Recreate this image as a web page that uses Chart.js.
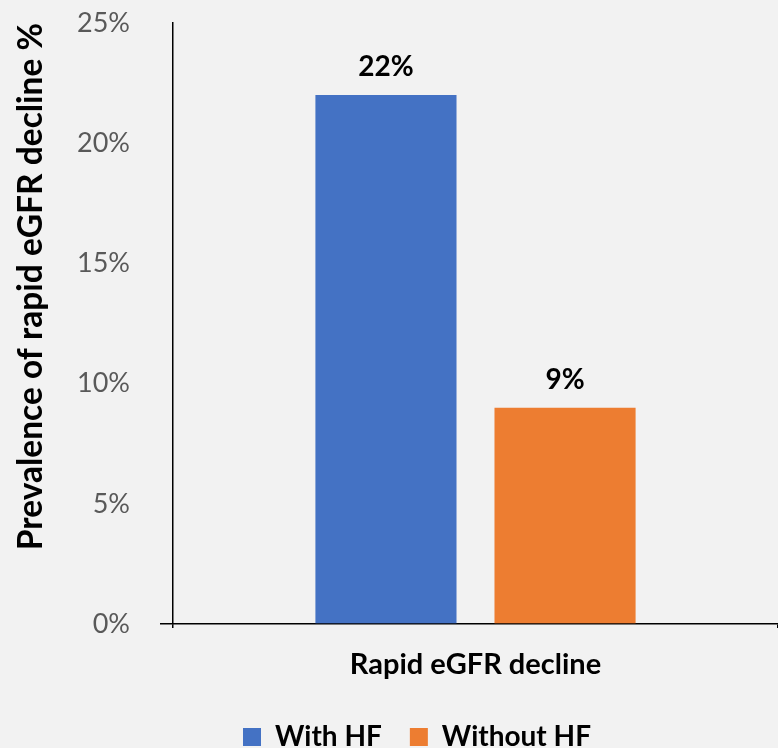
<!DOCTYPE html>
<html>
<head>
<meta charset="utf-8">
<script src="https://cdn.jsdelivr.net/npm/chart.js@4/dist/chart.umd.min.js"></script>
<style>
  html, body { margin: 0; padding: 0; background: #f2f2f2; }
  #wrap { width: 778px; height: 748px; }
</style>
</head>
<body>
<div id="wrap"><canvas id="c" width="778" height="748"></canvas></div>
<script>
// Prevalence of rapid eGFR decline, by heart-failure status
const categories = ['Rapid eGFR decline'];
const seriesNames = ['With HF', 'Without HF'];
const withHF = [22];
const withoutHF = [9];
const seriesColors = ['#4472C4', '#ED7D31'];
const yTicks = [0, 5, 10, 15, 20, 25];

const FONT = 'Lato, "Open Sans", sans-serif';

// Paint the light grey page behind everything
const background = {
  id: 'background',
  beforeDraw(chart) {
    const ctx = chart.ctx;
    ctx.save();
    ctx.fillStyle = '#f2f2f2';
    ctx.fillRect(0, 0, chart.width, chart.height);
    ctx.restore();
  }
};

// Move the legend block right of centre and closer to the bottom edge
const legendShift = {
  id: 'legendShift',
  afterLayout(chart) {
    const lg = chart.legend;
    if (lg) {
      lg.left += 28; lg.right += 28;
      lg.top += 13; lg.bottom += 13;
    }
  }
};

// Bold percentage labels above each bar
const valueLabels = {
  id: 'valueLabels',
  afterDatasetsDraw(chart) {
    const ctx = chart.ctx;
    ctx.save();
    ctx.font = 'bold 28px ' + FONT;
    ctx.fillStyle = '#000';
    ctx.textAlign = 'center';
    ctx.textBaseline = 'middle';
    chart.data.datasets.forEach((ds, i) => {
      chart.getDatasetMeta(i).data.forEach((bar, j) => {
        ctx.fillText(ds.data[j] + '%', bar.x, bar.y - 28);
      });
    });
    ctx.restore();
  }
};

new Chart(document.getElementById('c'), {
  type: 'bar',
  data: {
    labels: categories,
    datasets: [
      { label: seriesNames[0], data: withHF, backgroundColor: seriesColors[0] },
      { label: seriesNames[1], data: withoutHF, backgroundColor: seriesColors[1] }
    ]
  },
  options: {
    responsive: false,
    animation: false,
    devicePixelRatio: 1,
    categoryPercentage: 0.592,
    barPercentage: 0.788,
    layout: { padding: { top: 23, right: 0, left: 0, bottom: 0 } },
    plugins: {
      legend: {
        position: 'bottom',
        labels: {
          font: { family: FONT, size: 28, weight: 'bold' },
          color: '#000',
          boxWidth: 18,
          boxHeight: 18,
          padding: 28
        }
      },
      tooltip: { enabled: false }
    },
    scales: {
      x: {
        ticks: {
          font: { family: FONT, size: 29, weight: 'bold' },
          color: '#000',
          padding: 19
        },
        grid: {
          drawOnChartArea: false,
          tickLength: 4,
          color: '#000',
          lineWidth: 1.5
        },
        border: { color: '#000', width: 1.5 },
        afterFit(scale) { scale.height = 58; }
      },
      y: {
        min: 0,
        max: 25,
        afterBuildTicks(scale) { scale.ticks = yTicks.map(v => ({ value: v })); },
        ticks: {
          callback: v => v + '%',
          font: { family: FONT, size: 27 },
          color: '#595959',
          padding: 30
        },
        grid: {
          drawOnChartArea: false,
          tickLength: 13,
          color: ctx => (ctx.tick && ctx.tick.value === 0 ? '#000' : 'rgba(0,0,0,0)'),
          lineWidth: 1.5
        },
        border: { color: '#000', width: 1.5 },
        title: {
          display: true,
          align: 'end',
          text: 'Prevalence of rapid eGFR decline %',
          font: { family: FONT, size: 33.5, weight: 'bold' },
          color: '#000',
          padding: { top: 11, bottom: 0 }
        },
        afterFit(scale) {
          scale.width = 173;
          // the plot top/bottom are set by the layout padding, not the tick labels
          scale.paddingTop = 0;
          scale.paddingBottom = 0;
        }
      }
    }
  },
  plugins: [background, legendShift, valueLabels]
});
</script>
</body>
</html>
